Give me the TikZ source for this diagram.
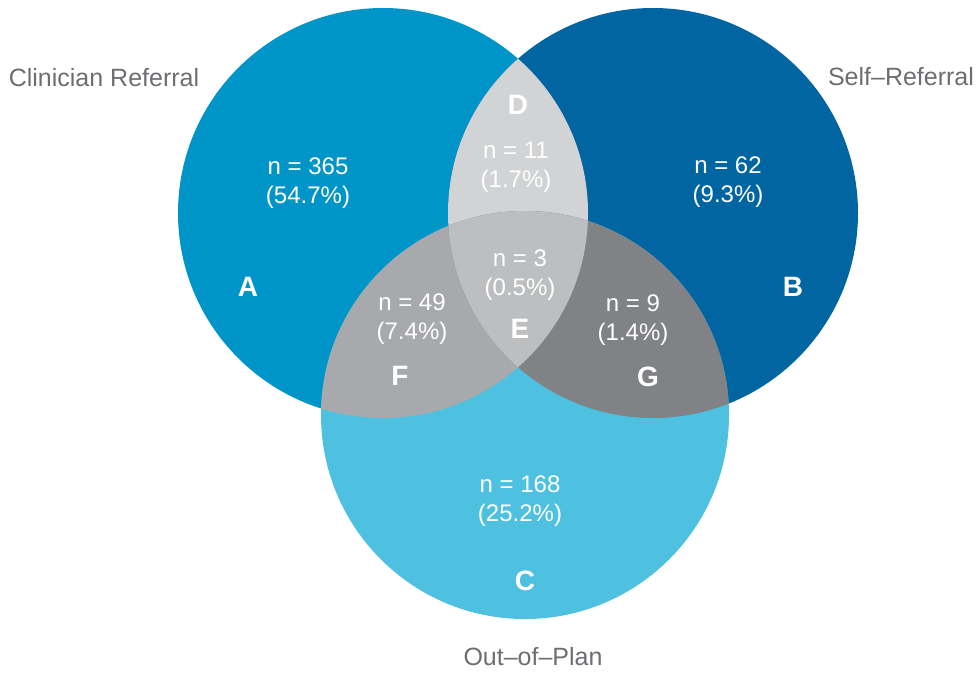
\documentclass[tikz,border=0pt]{standalone}
\usepackage{fontspec}
\setmainfont{Liberation Sans}
\definecolor{cA}{HTML}{0095C8}
\definecolor{cB}{HTML}{0065A1}
\definecolor{cC}{HTML}{4EC0E0}
\definecolor{cD}{HTML}{D1D3D4}
\definecolor{cE}{HTML}{BCBEC0}
\definecolor{cF}{HTML}{A7A9AC}
\definecolor{cG}{HTML}{808285}
\definecolor{tgray}{HTML}{6D6E71}
\begin{document}
\begin{tikzpicture}[x=1pt,y=-1pt,
  setlabel/.style={text=tgray,font=\fontsize{25}{29}\selectfont,inner sep=0pt},
  count/.style={text=white,font=\fontsize{24}{29}\selectfont,align=center,inner sep=0pt},
  region/.style={text=white,font=\fontsize{28}{30}\selectfont\bfseries,inner sep=0pt}]
\useasboundingbox (0,0) rectangle (976,672);
\def\circA{(383,213) circle[radius=205]}
\def\circB{(653,213) circle[radius=205]}
\def\circC{(525,415) circle[radius=204]}
\fill[cA] \circA;
\fill[cB] \circB;
\fill[cC] \circC;
\begin{scope}\clip \circA; \fill[cD] \circB; \end{scope}
\begin{scope}\clip \circA; \fill[cF] \circC; \end{scope}
\begin{scope}\clip \circB; \fill[cG] \circC; \end{scope}
\begin{scope}\clip \circA; \clip \circB; \fill[cE] \circC; \end{scope}
\node[setlabel] (labA) at (104,78) {Clinician Referral};
\node[setlabel] (labB) at (901,77) {Self–Referral};
\node[setlabel] (labC) at (533,657) {Out–of–Plan};
\node[count] (nA) at (308,183) {n = 365\\(54.7\%)};
\node[count] (nB) at (728,182) {n = 62\\(9.3\%)};
\node[count] (nC) at (520,501) {n = 168\\(25.2\%)};
\node[count] (nD) at (516,167) {n = 11\\(1.7\%)};
\node[count] (nE) at (520,275) {n = 3\\(0.5\%)};
\node[count] (nF) at (412,319) {n = 49\\(7.4\%)};
\node[count] (nG) at (633,320) {n = 9\\(1.4\%)};
\node[region] (rA) at (248,287) {A};
\node[region] (rB) at (793,287) {B};
\node[region] (rC) at (525,581) {C};
\node[region] (rD) at (518,105) {D};
\node[region] (rE) at (520,329) {E};
\node[region] (rF) at (400,376) {F};
\node[region] (rG) at (648,377) {G};
\end{tikzpicture}
\end{document}
